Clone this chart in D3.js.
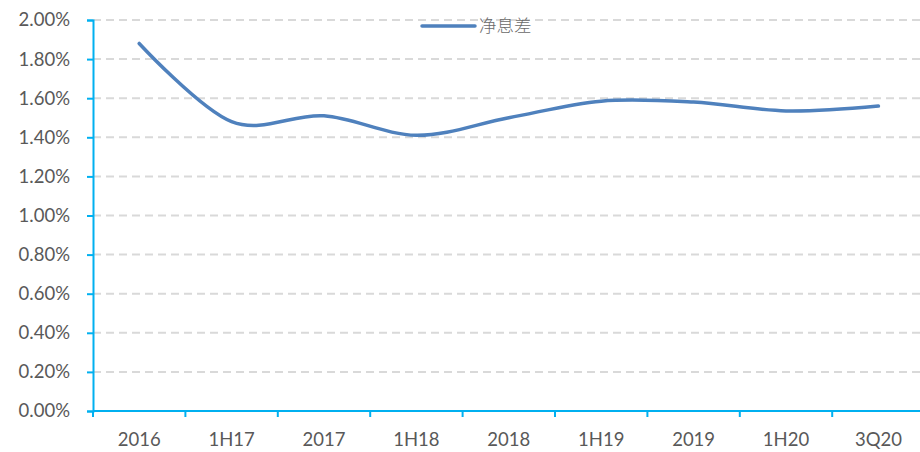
<!DOCTYPE html>
<html>
<head>
<meta charset="utf-8">
<script src="https://cdn.jsdelivr.net/npm/d3@7"></script>
<style>
  body { margin: 0; background: #fff; }
  text { font-family: Lato, "Open Sans", sans-serif; }
</style>
</head>
<body>
<div id="chart"></div>
<script>
// Data
const categories = ["2016", "1H17", "2017", "1H18", "2018", "1H19", "2019", "1H20", "3Q20"]
const nim = [1.88, 1.48, 1.51, 1.41, 1.50, 1.585, 1.58, 1.535, 1.56]
const yTicks = [0, 0.2, 0.4, 0.6, 0.8, 1.0, 1.2, 1.4, 1.6, 1.8, 2.0]
const seriesName = "净息差"

const width = 920, height = 452
const margin = { top: 20, right: 0, bottom: 41, left: 93 }

const svg = d3.select("#chart")
  .append("svg")
  .attr("width", width)
  .attr("height", height)

const x = d3.scaleBand()
  .domain(categories)
  .range([margin.left, margin.left + 9 * 92.4])

const y = d3.scaleLinear()
  .domain([0, 2])
  .range([height - margin.bottom, margin.top])

// gridlines
svg.append("g")
  .selectAll("line")
  .data(yTicks.filter(d => d > 0))
  .join("line")
  .attr("x1", margin.left)
  .attr("x2", width)
  .attr("y1", d => y(d))
  .attr("y2", d => y(d))
  .attr("stroke", "#d9d9d9")
  .attr("stroke-width", 2)
  .attr("stroke-dasharray", "8,5")

// y axis
const yAxis = svg.append("g")
  .attr("transform", `translate(${margin.left},0)`)
  .call(d3.axisLeft(y).tickValues(yTicks).tickFormat(d => d.toFixed(2) + "%").tickSize(6).tickPadding(17))
yAxis.select(".domain").attr("stroke", "#00b0f0").attr("stroke-width", 2)
yAxis.selectAll(".tick line").attr("stroke", "#00b0f0").attr("stroke-width", 2)
yAxis.selectAll(".tick text")
  .attr("fill", "#595959")
  .style("font-size", "18.5px")

// x axis
const xAxis = svg.append("g")
  .attr("transform", `translate(0,${height - margin.bottom})`)
  .call(d3.axisBottom(x).tickSize(0).tickPadding(22))
xAxis.select(".domain").attr("stroke", "#00b0f0").attr("stroke-width", 2)
  .attr("d", `M${margin.left},0H${width}`)
xAxis.selectAll(".tick text")
  .attr("fill", "#595959")
  .style("font-size", "18.5px")
xAxis.selectAll(".tick line").remove()

// category boundary ticks
svg.append("g")
  .selectAll("line")
  .data(categories)
  .join("line")
  .attr("x1", d => x(d))
  .attr("x2", d => x(d))
  .attr("y1", height - margin.bottom)
  .attr("y2", height - margin.bottom + 6)
  .attr("stroke", "#00b0f0")
  .attr("stroke-width", 2)

// line
const line = d3.line()
  .x((d, i) => x(categories[i]) + x.bandwidth() / 2)
  .y(d => y(d))
  .curve(d3.curveCatmullRom.alpha(0))

svg.append("path")
  .datum(nim)
  .attr("fill", "none")
  .attr("stroke", "#4f81bd")
  .attr("stroke-width", 3.5)
  .attr("stroke-linecap", "round")
  .attr("d", line)

// legend
const legend = svg.append("g").attr("transform", "translate(422,26)")
legend.append("line")
  .attr("x1", 0).attr("x2", 53)
  .attr("stroke", "#4f81bd")
  .attr("stroke-width", 3.5)
  .attr("stroke-linecap", "round")
legend.append("text")
  .attr("x", 57)
  .attr("y", 6)
  .attr("fill", "#6a6a6a")
  .style("font-size", "17.5px")
  .style("font-family", "'Noto Sans CJK SC', sans-serif")
  .style("font-weight", 300)
  .text(seriesName)
</script>
</body>
</html>
